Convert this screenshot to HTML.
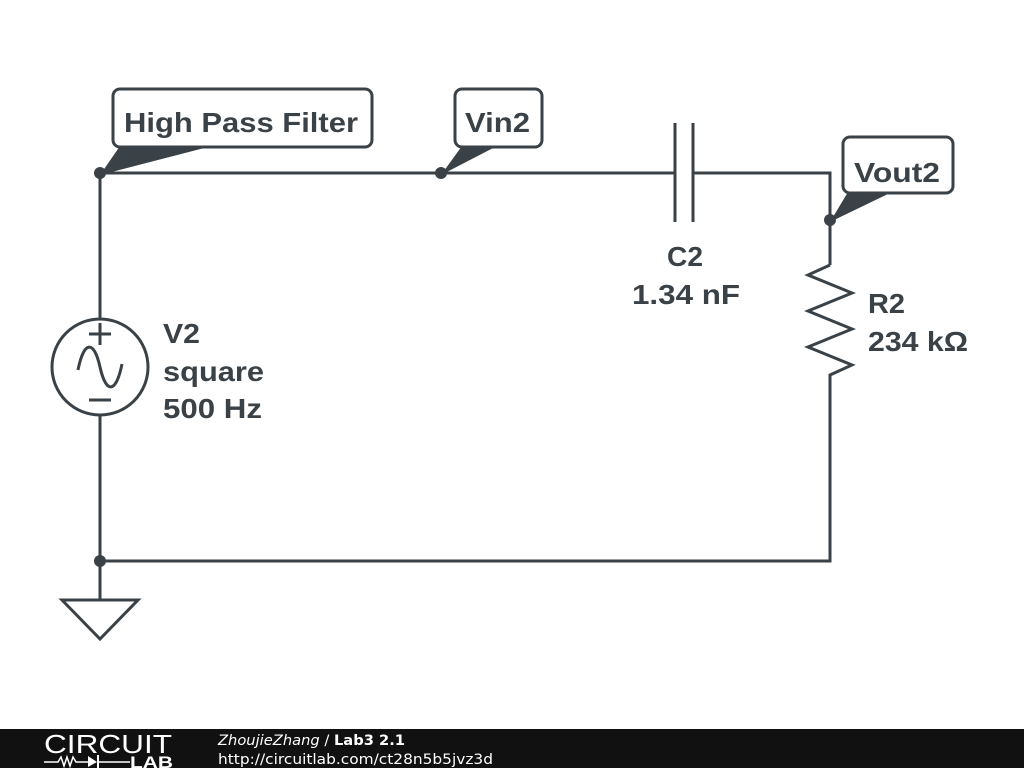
<!DOCTYPE html>
<html><head><meta charset="utf-8"><style>
html,body{margin:0;padding:0;background:#fff;}
svg{display:block;}
text{font-family:"Liberation Sans",Arial,sans-serif;font-weight:bold;fill:#3b4247;}
</style></head><body>
<svg width="1024" height="768" viewBox="0 0 1024 768" xmlns="http://www.w3.org/2000/svg">
<g stroke="#3b4247" stroke-width="3" fill="none" stroke-linejoin="miter">
<polyline points="100,319 100,173 675,173"/>
<polyline points="693,173 830,173 830,265"/>
<line x1="675" y1="123" x2="675" y2="222"/>
<line x1="693" y1="123" x2="693" y2="222"/>
<polyline points="830,265 808,275 852,293 808,311 852,329 808,347 852,365 830,375 830,561 100,561 100,415"/>
<line x1="100" y1="561" x2="100" y2="600"/>
<polygon points="62,600 138,600 100,639"/>
<circle cx="100" cy="367" r="48"/>
<line x1="89" y1="334" x2="111" y2="334"/>
<line x1="100" y1="323" x2="100" y2="345"/>
<line x1="89" y1="400" x2="111" y2="400"/>
<path d="M78,370 C84,340 94,340 100,367 C106,394 116,394 122,364"/>
<rect x="113" y="89" width="259" height="58" rx="7" fill="#fff"/>
<rect x="455" y="89" width="87" height="58" rx="7" fill="#fff"/>
<rect x="843" y="137" width="110" height="56" rx="7" fill="#fff"/>
</g>
<g fill="#3b4247">
<polygon points="120,146 212,146 100,175"/>
<polygon points="462,146 497,146 441,175"/>
<polygon points="848,192 892,192 830,222"/>
<circle cx="100" cy="173" r="6"/>
<circle cx="441" cy="173" r="6"/>
<circle cx="830" cy="220" r="6"/>
<circle cx="100" cy="561" r="6"/>
</g>
<g font-size="28">
<text x="124" y="132" textLength="234" lengthAdjust="spacingAndGlyphs">High Pass Filter</text>
<text x="465" y="132" textLength="65" lengthAdjust="spacingAndGlyphs">Vin2</text>
<text x="854" y="182" textLength="86" lengthAdjust="spacingAndGlyphs">Vout2</text>
<text x="667" y="266" textLength="36" lengthAdjust="spacingAndGlyphs">C2</text>
<text x="632" y="304" textLength="108" lengthAdjust="spacingAndGlyphs">1.34 nF</text>
<text x="868" y="313" textLength="37" lengthAdjust="spacingAndGlyphs">R2</text>
<text x="868" y="351" textLength="100" lengthAdjust="spacingAndGlyphs">234 kΩ</text>
<text x="163" y="343" textLength="37" lengthAdjust="spacingAndGlyphs">V2</text>
<text x="163" y="381" textLength="101" lengthAdjust="spacingAndGlyphs">square</text>
<text x="163" y="418" textLength="99" lengthAdjust="spacingAndGlyphs">500 Hz</text>
</g>
<rect x="0" y="729" width="1024" height="39" fill="#111"/>
<text x="44" y="753" font-size="26" textLength="128" lengthAdjust="spacingAndGlyphs" style="font-weight:normal;fill:#fff">CIRCUIT</text>
<polyline points="44,762 58,762 61,757 64,766 67,757 70,766 73,757 76,762 88,762" stroke="#fff" stroke-width="1.5" fill="none"/>
<polygon points="88,756 88,767 97,762" fill="#fff"/>
<line x1="98" y1="755" x2="98" y2="768" stroke="#fff" stroke-width="2"/>
<line x1="98" y1="762" x2="130" y2="762" stroke="#fff" stroke-width="1.5"/>
<text x="130" y="768" font-size="17" textLength="43" lengthAdjust="spacingAndGlyphs" style="fill:#fff">LAB</text>
<text x="218" y="745" font-size="14" textLength="187" lengthAdjust="spacingAndGlyphs" style="font-family:'DejaVu Sans',sans-serif;font-weight:normal;fill:#fff"><tspan font-style="italic">ZhoujieZhang</tspan> / <tspan font-weight="bold">Lab3 2.1</tspan></text>
<text x="218" y="764" font-size="14" textLength="275" lengthAdjust="spacingAndGlyphs" style="font-family:'DejaVu Sans',sans-serif;font-weight:normal;fill:#fff">http://circuitlab.com/ct28n5b5jvz3d</text>
</svg>
</body></html>
